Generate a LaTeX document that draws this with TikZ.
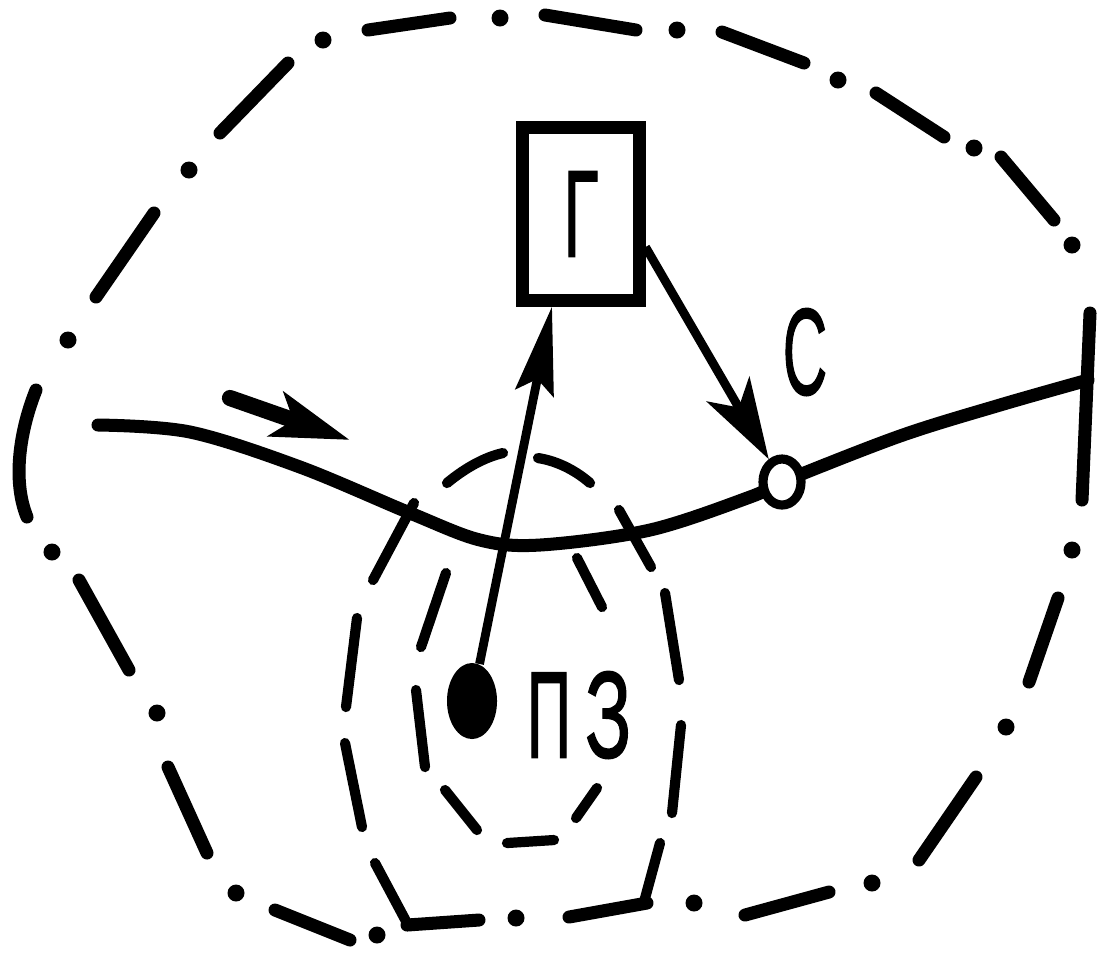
\documentclass[tikz,border=0pt]{standalone}
\usepackage{fontspec}
\setmainfont{Liberation Sans}
\newfontfamily\lblfont[FakeBold=1.5]{Liberation Sans}
\usetikzlibrary{arrows.meta,shapes.geometric,calc}
\begin{document}
\begin{tikzpicture}[x=0.01cm,y=-0.01cm,
  od/.style={line width=3.7pt,line cap=round},
  zone/.style={line width=2.9pt,line cap=round},
  flow/.style={line width=3.7pt,line cap=round},
  link/.style={line width=2.5pt},
  lbl/.style={font=\fontsize{35}{35}\lblfont, inner sep=0pt},
  ]
\useasboundingbox[fill=white] (0,0) rectangle (1101,953);

% dash-dot outline: dots
\foreach \x/\y in {323/40,500/18,677/30,838/80,974/148,1072/245,1072/550,1006/727,872/883,694/903,516/918,377/935,236/893,157/713,52/552,68/340,189/170}
  \fill (\x,\y) circle (0.085cm);
% dash-dot outline: dashes
\draw[od] (368,30) -- (450,18);
\draw[od] (545,15) -- (636,30);
\draw[od] (722,32) -- (804,63);
\draw[od] (876,93) -- (944,137);
\draw[od] (1001,157) -- (1054,220);
\draw[od] (1090,313) -- (1082,500);
\draw[od] (1058,598) -- (1029,682);
\draw[od] (976,777) -- (919,860);
\draw[od] (829,892) -- (745,915);
\draw[od] (647,903) -- (569,917);
\draw[od] (479,920) -- (407,925);
\draw[od] (350,940) -- (275,910);
\draw[od] (207,853) -- (168,767);
\draw[od] (129,670) -- (79,580);
\draw[od] (27,517) .. controls (12,480) and (20,430) .. (36,390);
\draw[od] (96,297) -- (154,213);
\draw[od] (220,133) -- (288,63);

% outer dashed zone
\draw[zone] (414,503) -- (373,580);
\draw[zone] (357,618) -- (346,707);
\draw[zone] (345,743) -- (362,827);
\draw[zone] (375,863) -- (407,923);
\draw[zone] (447,483) .. controls (465,468) and (485,457) .. (503,453);
\draw[zone] (538,458) .. controls (557,461) and (575,470) .. (590,483);
\draw[zone] (619,510) -- (651,567);
\draw[zone] (665,593) -- (679,680);
\draw[zone] (681,725) -- (672,813);
\draw[zone] (660,843) -- (644,902);
% inner dashed zone
\draw[zone] (446,573) -- (421,647);
\draw[zone] (416,690) -- (425,767);
\draw[zone] (445,790) -- (477,830);
\draw[zone] (507,843) -- (554,840);
\draw[zone] (576,818) -- (597,788);
\draw[zone] (577,558) -- (602,607);

% main line
\coordinate (s) at (98,425);
\coordinate (cC) at (782,482);
\coordinate (e) at (1088,380);
\draw[flow] plot[smooth, tension=0.55] coordinates {(s) (190,432) (300,467) (410,513) (480,540) (540,545) (650,530) (750,497) (cC) (900,436) (1000,405) (e)};

% flow direction arrow
\coordinate (f1) at (230,398);
\coordinate (f2) at (350,440);
\draw[line width=4.6pt, line cap=round, -{Stealth[length=22pt,width=13pt,inset=5pt]}] (f1) -- (f2);

% nodes
\node[draw, line width=3.7pt, minimum width=1.16cm, minimum height=1.72cm, inner sep=0pt, lbl] (G) at (581,214) {\scalebox{0.52}[1]{Г}};
\node[draw, ellipse, line width=2.6pt, fill=white, minimum width=0.38cm, minimum height=0.46cm, inner sep=0pt] (C) at (cC) {};
\node[ellipse, fill=black, minimum width=0.5cm, minimum height=0.76cm, inner sep=0pt] (P) at (472,701) {};
\node[lbl] (Clbl) at (805,352) {\scalebox{0.5}[1]{С}};
\node[lbl] (PZ) at (579,715) {\scalebox{0.5}[1]{П}\kern 4pt\scalebox{0.62}[1]{З}};

% connectors
\draw[link, -{Stealth[length=25pt,width=11pt,inset=4pt]}] (P) -- ([xshift=-0.29cm]G.south);
\draw[link, -{Stealth[length=23pt,width=14pt,inset=6pt]}] ([yshift=-0.33cm]G.east) -- (C);
\end{tikzpicture}
\end{document}
